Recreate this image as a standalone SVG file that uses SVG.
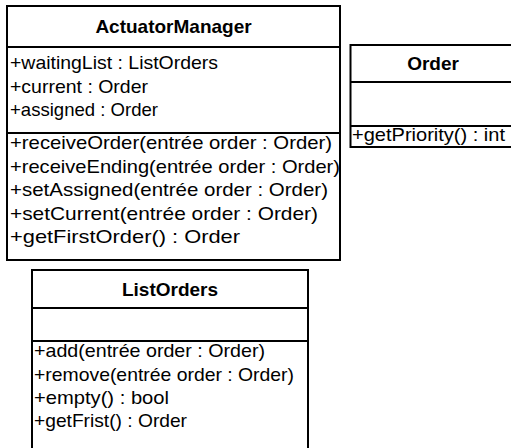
<svg xmlns="http://www.w3.org/2000/svg" width="511" height="448" viewBox="0 0 511 448">
<style>
.box{fill:#fff;stroke:#000;stroke-width:2}
.sep{stroke:#000;stroke-width:2}
.t{font-family:"Liberation Sans",Arial,sans-serif;font-size:19px;fill:#000}
.h{font-family:"Liberation Sans",Arial,sans-serif;font-size:19px;font-weight:bold;fill:#000;text-anchor:middle}
</style>
<rect width="511" height="448" fill="#fff"/>
<g id="connectors"></g>
<g id="ActuatorManager">
<rect class="box" x="7" y="6" width="333" height="254"/>
<line class="sep" x1="7" y1="47" x2="340" y2="47"/>
<line class="sep" x1="7" y1="133" x2="340" y2="133"/>
<text class="h" x="173.5" y="33">ActuatorManager</text>
<text class="t" x="10" y="69" textLength="208" lengthAdjust="spacingAndGlyphs">+waitingList : ListOrders</text>
<text class="t" x="10" y="92.5" textLength="138" lengthAdjust="spacingAndGlyphs">+current : Order</text>
<text class="t" x="10" y="116" textLength="148" lengthAdjust="spacingAndGlyphs">+assigned : Order</text>
<text class="t" x="10" y="149" textLength="322" lengthAdjust="spacingAndGlyphs">+receiveOrder(entrée order : Order)</text>
<text class="t" x="10" y="172.5" textLength="330" lengthAdjust="spacingAndGlyphs">+receiveEnding(entrée order : Order)</text>
<text class="t" x="10" y="196" textLength="318" lengthAdjust="spacingAndGlyphs">+setAssigned(entrée order : Order)</text>
<text class="t" x="10" y="219.5" textLength="308" lengthAdjust="spacingAndGlyphs">+setCurrent(entrée order : Order)</text>
<text class="t" x="10" y="243" textLength="230" lengthAdjust="spacingAndGlyphs">+getFirstOrder() : Order</text>
</g>
<g id="Order">
<rect class="box" x="350.5" y="45" width="166" height="102"/>
<line class="sep" x1="350.5" y1="82" x2="516.5" y2="82"/>
<line class="sep" x1="350.5" y1="126" x2="516.5" y2="126"/>
<text class="h" x="433" y="70">Order</text>
<text class="t" x="352" y="141" textLength="153" lengthAdjust="spacingAndGlyphs">+getPriority() : int</text>
</g>
<g id="ListOrders">
<rect class="box" x="32" y="270" width="276" height="190"/>
<line class="sep" x1="32" y1="308" x2="308" y2="308"/>
<line class="sep" x1="32" y1="341" x2="308" y2="341"/>
<text class="h" x="170" y="296">ListOrders</text>
<text class="t" x="34" y="357" textLength="231" lengthAdjust="spacingAndGlyphs">+add(entrée order : Order)</text>
<text class="t" x="34" y="380.5" textLength="260" lengthAdjust="spacingAndGlyphs">+remove(entrée order : Order)</text>
<text class="t" x="34" y="404" textLength="135" lengthAdjust="spacingAndGlyphs">+empty() : bool</text>
<text class="t" x="34" y="427" textLength="153" lengthAdjust="spacingAndGlyphs">+getFrist() : Order</text>
</g>
</svg>
